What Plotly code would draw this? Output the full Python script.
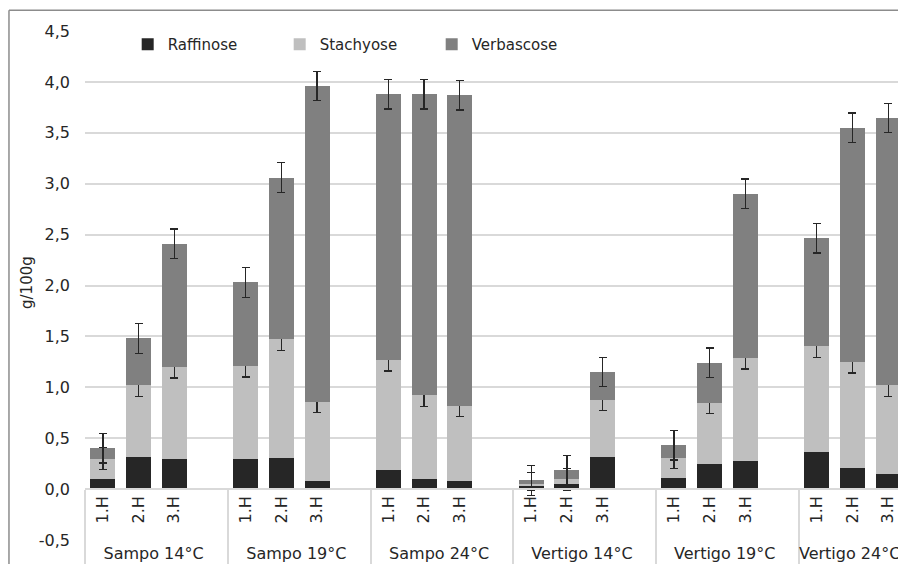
import plotly.graph_objects as go

groups = ["Sampo 14°C", "Sampo 19°C", "Sampo 24°C", "Vertigo 14°C", "Vertigo 19°C", "Vertigo 24°C"]
harvests = ["1.H", "2.H", "3.H"]

raffinose = [0.10, 0.32, 0.30, 0.30, 0.31, 0.08, 0.19, 0.10, 0.08,
             0.03, 0.055, 0.32, 0.105, 0.25, 0.28, 0.36, 0.21, 0.15]
stachyose = [0.20, 0.70, 0.90, 0.91, 1.16, 0.78, 1.08, 0.82, 0.74,
             0.02, 0.04, 0.56, 0.205, 0.60, 1.01, 1.045, 1.04, 0.87]
verbascose = [0.10, 0.46, 1.21, 0.82, 1.59, 3.10, 2.61, 2.96, 3.05,
              0.035, 0.09, 0.27, 0.12, 0.39, 1.61, 1.06, 2.30, 2.625]

err_raffinose = [0.04, 0.04, 0.04, 0.04, 0.04, 0.04, 0.04, 0.04, 0.04,
                 0.04, 0.04, 0.04, 0.04, 0.04, 0.04, 0.04, 0.04, 0.04]
err_stachyose = [0.11, 0.11, 0.11, 0.11, 0.11, 0.11, 0.11, 0.11, 0.11,
                 0.11, 0.11, 0.11, 0.11, 0.11, 0.11, 0.11, 0.11, 0.11]
err_verbascose = [0.145, 0.145, 0.145, 0.145, 0.145, 0.145, 0.145, 0.145, 0.145,
                  0.145, 0.145, 0.145, 0.145, 0.145, 0.145, 0.145, 0.145, 0.145]

y_tickvals = [-0.5, 0.0, 0.5, 1.0, 1.5, 2.0, 2.5, 3.0, 3.5, 4.0, 4.5]
y_ticktext = ["-0,5", "0,0", "0,5", "1,0", "1,5", "2,0", "2,5", "3,0", "3,5", "4,0", "4,5"]
y_title = "g/100g"

series_names = ["Raffinose", "Stachyose", "Verbascose"]
series_colors = ["#262626", "#bfbfbf", "#808080"]

FONT = "DejaVu Sans"
TXT = "#262626"

# build category slots: 3 harvests + one empty slot per group
x_outer, x_inner = [], []
for g in groups:
    for h in harvests + [" "]:
        x_outer.append(g)
        x_inner.append("\u00a0" + h if h.strip() else h)


def pad(vals):
    out = []
    for gi in range(len(groups)):
        out += vals[gi * 3:(gi + 1) * 3] + [None]
    return out


fig = go.Figure()
for name, vals, errs, col in zip(series_names,
                                 [raffinose, stachyose, verbascose],
                                 [err_raffinose, err_stachyose, err_verbascose],
                                 series_colors):
    fig.add_trace(go.Bar(
        x=[x_outer, x_inner], y=pad(vals), name=name,
        marker=dict(color=col, line=dict(width=0)),
        error_y=dict(type="data", array=pad(errs), visible=True,
                     color="#262626", thickness=1.3, width=4),
    ))

fig.update_layout(
    width=898, height=556,
    barmode="stack", bargap=0.3,
    separators=",.",
    paper_bgcolor="white", plot_bgcolor="white",
    margin=dict(l=77, r=0, t=23, b=24, autoexpand=False),
    font=dict(family=FONT, size=15, color=TXT),
    showlegend=True,
    legend=dict(orientation="h", x=0.052, y=1.006, xanchor="left", yanchor="top",
                traceorder="normal", font=dict(family=FONT, size=15, color=TXT),
                entrywidth=107, entrywidthmode="pixels", bgcolor="rgba(0,0,0,0)"),
)

fig.update_yaxes(range=[-0.5, 4.5], tickmode="array",
                 tickvals=y_tickvals, ticktext=y_ticktext,
                 showgrid=True, gridcolor="#d9d9d9", gridwidth=1.5,
                 zeroline=False, showline=False, ticks="",
                 ticklabelstandoff=14,
                 tickfont=dict(family=FONT, size=16, color=TXT))

fig.update_xaxes(type="multicategory", anchor="free", position=0.1,
                 range=[-0.5, 22.5],
                 showline=True, linecolor="#d9d9d9", linewidth=1.5,
                 showgrid=False, ticks="", tickangle=-90,
                 showdividers=True, dividercolor="#d9d9d9", dividerwidth=1.5,
                 tickfont=dict(family=FONT, size=16, color=TXT))

fig.add_annotation(text=y_title, xref="paper", yref="paper",
                   x=-0.0706, y=0.505, textangle=-90, showarrow=False,
                   xanchor="center", yanchor="middle",
                   font=dict(family=FONT, size=15, color=TXT))

# outer chart border (top and left edges; right/bottom lie outside the view)
fig.add_shape(type="line", xref="paper", yref="paper",
              x0=-0.0926, x1=1.1, y0=1.041, y1=1.041,
              line=dict(color="#8c8c8c", width=1.5), layer="above")
fig.add_shape(type="line", xref="paper", yref="paper",
              x0=-0.0926, x1=-0.0926, y0=-0.2, y1=1.041,
              line=dict(color="#8c8c8c", width=1.5), layer="above")

fig.write_html("out.html")
